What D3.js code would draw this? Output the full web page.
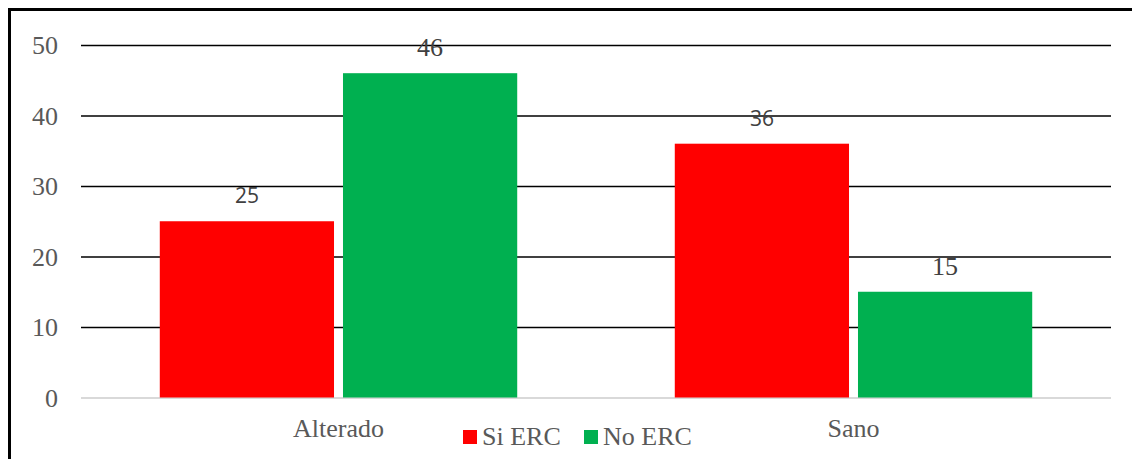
<!DOCTYPE html>
<html>
<head>
<meta charset="utf-8">
<script src="https://cdn.jsdelivr.net/npm/d3@7/dist/d3.min.js"></script>
<style>
  html, body { margin: 0; padding: 0; background: #fff; }
  svg { display: block; }
</style>
</head>
<body>
<svg id="chart" width="1132" height="459"></svg>
<script>
// Data
const categories = ["Alterado", "Sano"];
const seriesNames = ["Si ERC", "No ERC"];
const siERC = [25, 36];
const noERC = [46, 15];
const yTicks = [0, 10, 20, 30, 40, 50];

const colors = { "Si ERC": "#ff0000", "No ERC": "#00b050" };
const serif = "'Liberation Serif', 'Times New Roman', serif";
const sans = "'Open Sans', 'Noto Sans', sans-serif";

const svg = d3.select("#chart");
const W = 1132, H = 459;
const plot = { left: 81, right: 1111, top: 45, bottom: 397.5 };

// Outer frame (only top and left edges fall inside the canvas)
svg.append("rect")
  .attr("x", 9.5).attr("y", 9.5)
  .attr("width", W + 20).attr("height", H + 20)
  .attr("fill", "none").attr("stroke", "#000").attr("stroke-width", 3);

const x0 = d3.scaleBand().domain(categories)
  .range([plot.left, plot.right]).paddingInner(0).paddingOuter(0);
const x1 = d3.scaleBand().domain(seriesNames)
  .range([0, x0.bandwidth()]).paddingInner(0.049).paddingOuter(0.43);
const y = d3.scaleLinear().domain([0, 50]).range([plot.bottom, plot.top]);

// Gridlines
const yAxis = d3.axisLeft(y).tickValues(yTicks).tickSize(-(plot.right - plot.left)).tickFormat(d3.format("d"));
const gy = svg.append("g").attr("transform", `translate(${plot.left},0)`).call(yAxis);
gy.select(".domain").remove();
gy.selectAll(".tick line")
  .attr("stroke", d => d === 0 ? "#d9d9d9" : "#000")
  .attr("stroke-width", d => d === 0 ? 2 : 1.6);
gy.selectAll(".tick text")
  .attr("x", -23)
  .attr("dy", "0.34em")
  .attr("fill", "#595959")
  .style("font-family", serif)
  .style("font-size", "26px");

// Bars
const rows = categories.map((c, i) => ({ cat: c, values: [
  { name: "Si ERC", value: siERC[i] },
  { name: "No ERC", value: noERC[i] }
]}));

const groups = svg.append("g").selectAll("g").data(rows).join("g")
  .attr("transform", d => `translate(${x0(d.cat)},0)`);

groups.selectAll("rect").data(d => d.values).join("rect")
  .attr("x", d => x1(d.name))
  .attr("y", d => y(d.value))
  .attr("width", x1.bandwidth())
  .attr("height", d => y(0) - y(d.value))
  .attr("fill", d => colors[d.name]);

// Value labels (the Si ERC labels use a sans face, No ERC a serif face)
groups.selectAll("text.val").data(d => d.values).join("text")
  .attr("class", "val")
  .attr("x", d => x1(d.name) + x1.bandwidth() / 2)
  .attr("y", d => y(d.value) - (d.name === "Si ERC" ? 18 : 17))
  .attr("text-anchor", "middle")
  .attr("fill", "#404040")
  .style("font-family", d => d.name === "Si ERC" ? sans : serif)
  .style("font-size", d => d.name === "Si ERC" ? "21px" : "26px")
  .text(d => d.value);

// Category labels
svg.append("g").selectAll("text").data(categories).join("text")
  .attr("x", d => x0(d) + x0.bandwidth() / 2)
  .attr("y", 437)
  .attr("text-anchor", "middle")
  .attr("fill", "#595959")
  .style("font-family", serif)
  .style("font-size", "26px")
  .text(d => d);

// Legend
const legendX = [463, 584];
const leg = svg.append("g").selectAll("g").data(seriesNames).join("g")
  .attr("transform", (d, i) => `translate(${legendX[i]},430)`);
leg.append("rect").attr("width", 14).attr("height", 14).attr("fill", d => colors[d]);
leg.append("text")
  .attr("x", 19).attr("y", 15)
  .attr("fill", "#595959")
  .style("font-family", serif)
  .style("font-size", "26px")
  .text(d => d);
</script>
</body>
</html>
